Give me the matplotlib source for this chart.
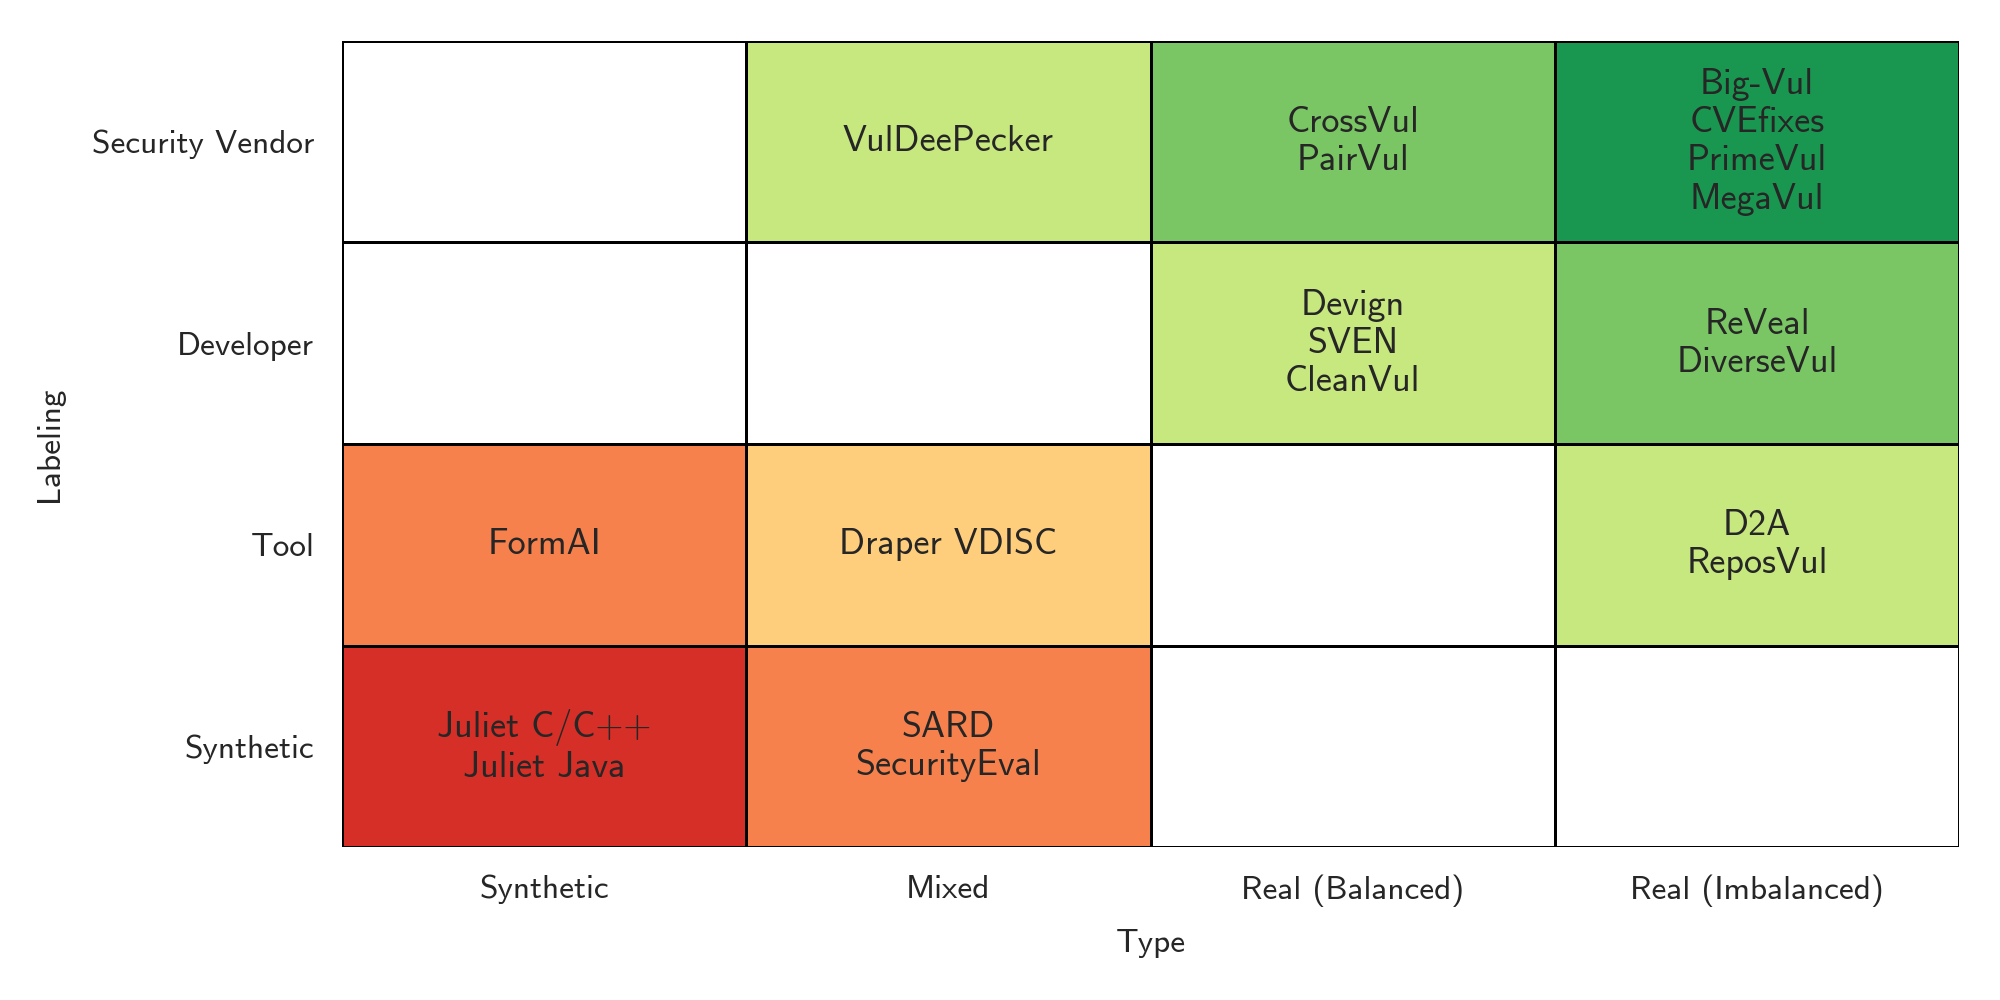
import numpy as np
import matplotlib
matplotlib.use("Agg")
import matplotlib.pyplot as plt
from matplotlib.colors import Normalize

# categories
type_labels = ["Synthetic", "Mixed", "Real (Balanced)", "Real (Imbalanced)"]
labeling_labels = ["Security Vendor", "Developer", "Tool", "Synthetic"]  # top to bottom

# score per cell (nan = no dataset), rows top to bottom
scores = [
    [np.nan, 4, 5, 6],
    [np.nan, np.nan, 4, 5],
    [1, 2, np.nan, 4],
    [0, 1, np.nan, np.nan],
]

# dataset names per cell
datasets = [
    ["", "VulDeePecker", "CrossVul\nPairVul", "Big-Vul\nCVEfixes\nPrimeVul\nMegaVul"],
    ["", "", "Devign\nSVEN\nCleanVul", "ReVeal\nDiverseVul"],
    ["FormAI", "Draper VDISC", "", "D2A\nReposVul"],
    ["Juliet C/C++\nJuliet Java", "SARD\nSecurityEval", "", ""],
]

text_color = "#262626"
plt.rcParams["font.family"] = ["cmss10", "DejaVu Sans"]
plt.rcParams["axes.unicode_minus"] = False

fig = plt.figure(figsize=(10, 5), dpi=200)
ax = fig.add_axes([0.171, 0.153, 0.8085, 0.806])

cmap = matplotlib.colormaps["RdYlGn"].copy()
cmap.set_bad("white")
data = np.ma.masked_invalid(np.array(scores, dtype=float))
ax.pcolormesh(data, cmap=cmap, norm=Normalize(vmin=-0.75, vmax=6.75),
              edgecolors="black", linewidth=1.0)
ax.set_xlim(0, len(type_labels))
ax.set_ylim(len(labeling_labels), 0)

for i, row in enumerate(datasets):
    for j, txt in enumerate(row):
        if txt:
            ax.text(j + 0.5, i + 0.5, txt, ha="center", va="center",
                    fontsize=13, color=text_color, linespacing=1.2)

ax.set_xticks(np.arange(len(type_labels)) + 0.5)
ax.set_xticklabels(type_labels, fontsize=12, color=text_color)
ax.set_yticks(np.arange(len(labeling_labels)) + 0.5)
ax.set_yticklabels(labeling_labels, fontsize=12, color=text_color)
ax.tick_params(length=0, pad=10)
ax.set_xlabel("Type", fontsize=12, color=text_color, labelpad=8)
ax.set_ylabel("Labeling", fontsize=12, color=text_color, labelpad=10)
for s in ax.spines.values():
    s.set_visible(False)

fig.savefig("out.png", dpi=200)
